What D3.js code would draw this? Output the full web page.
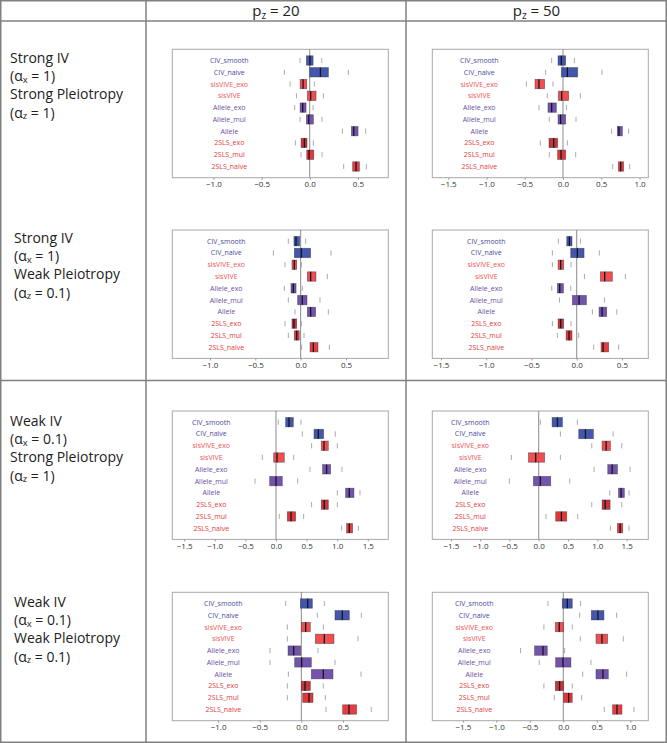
<!DOCTYPE html>
<html><head><meta charset="utf-8">
<script src="https://cdn.jsdelivr.net/npm/d3@7"></script>
<style>body{margin:0;background:#fff;} svg{display:block;font-family:"Open Sans",sans-serif;}</style>
</head><body><svg id="c" width="667" height="743"></svg>
<script>
// ---------- data ----------
const methods = ["CIV_smooth","CIV_naive","sisVIVE_exo","sisVIVE","Allele_exo","Allele_mul","Allele","2SLS_exo","2SLS_mul","2SLS_naive"];
const boxColors  = ["#3b4ea6","#3b4ea6","#ee4646","#ee4646","#6b4aa6","#6b4aa6","#6b4aa6","#c62a2e","#df2c2c","#e53434"];
const textColors = ["#4a4d9e","#4a4d9e","#ef5252","#ef5252","#6a4fa3","#6a4fa3","#6a4fa3","#e23a3a","#e23a3a","#e23a3a"];
const colHeaders = ["20","50"];
const rowIV     = ["Strong IV","Strong IV","Weak IV","Weak IV"];
const rowAx     = ["1","1","0.1","0.1"];
const rowPleio  = ["Strong Pleiotropy","Weak Pleiotropy","Strong Pleiotropy","Weak Pleiotropy"];
const rowAz     = ["1","0.1","1","0.1"];

// each entry: [whisker low, Q1, median, Q3, whisker high]
const p1 = [[-0.100,-0.035,0.003,0.035,0.125],[-0.263,0.000,0.111,0.194,0.401],[-0.204,-0.100,-0.069,-0.031,0.048],[-0.138,-0.024,0.010,0.066,0.142],[-0.156,-0.100,-0.073,-0.038,0.035],[-0.100,-0.035,-0.010,0.038,0.128],[0.339,0.433,0.457,0.502,0.581],[-0.149,-0.090,-0.055,-0.028,0.038],[-0.090,-0.031,-0.007,0.042,0.128],[0.353,0.446,0.481,0.516,0.588]];
const p2 = [[-0.148,-0.065,-0.022,0.035,0.148],[-0.227,-0.022,0.057,0.192,0.510],[-0.479,-0.366,-0.314,-0.240,-0.131],[-0.205,-0.061,-0.017,0.074,0.227],[-0.314,-0.196,-0.148,-0.087,0.044],[-0.179,-0.065,-0.031,0.035,0.170],[0.636,0.710,0.732,0.776,0.858],[-0.296,-0.183,-0.122,-0.070,0.057],[-0.179,-0.070,-0.026,0.035,0.166],[0.649,0.723,0.754,0.793,0.871]];
const p3 = [[-0.136,-0.074,-0.051,-0.011,0.055],[-0.301,-0.070,0.007,0.110,0.335],[-0.173,-0.096,-0.070,-0.044,0.007],[0.000,0.074,0.110,0.169,0.294],[-0.180,-0.107,-0.081,-0.051,0.018],[-0.136,-0.033,0.018,0.070,0.213],[-0.063,0.074,0.110,0.165,0.305],[-0.173,-0.096,-0.074,-0.044,0.007],[-0.136,-0.070,-0.044,-0.015,0.037],[0.011,0.103,0.140,0.191,0.316]];
const p4 = [[-0.203,-0.110,-0.081,-0.052,0.041],[-0.269,-0.066,0.007,0.081,0.250],[-0.269,-0.206,-0.177,-0.144,-0.063],[0.085,0.261,0.309,0.394,0.538],[-0.276,-0.214,-0.188,-0.147,-0.066],[-0.191,-0.048,0.026,0.107,0.306],[0.173,0.247,0.280,0.331,0.442],[-0.269,-0.206,-0.177,-0.144,-0.063],[-0.214,-0.118,-0.085,-0.052,0.022],[0.188,0.269,0.291,0.353,0.464]];
const p5 = [[0.038,0.158,0.212,0.283,0.408],[0.430,0.621,0.691,0.778,0.969],[0.582,0.740,0.784,0.855,1.002],[-0.223,-0.038,0.016,0.136,0.289],[0.555,0.762,0.827,0.893,1.078],[-0.343,-0.103,0.000,0.103,0.354],[1.002,1.138,1.198,1.274,1.372],[0.582,0.740,0.789,0.855,1.002],[0.054,0.185,0.245,0.321,0.452],[1.072,1.154,1.198,1.252,1.345]];
const p6 = [[0.028,0.228,0.319,0.404,0.660],[0.370,0.683,0.797,0.933,1.269],[0.905,1.081,1.150,1.224,1.417],[-0.467,-0.176,-0.051,0.102,0.370],[0.945,1.178,1.252,1.343,1.559],[-0.501,-0.091,0.028,0.205,0.529],[1.212,1.360,1.405,1.461,1.541],[0.905,1.081,1.133,1.218,1.417],[0.125,0.290,0.387,0.478,0.666],[1.224,1.343,1.389,1.434,1.541]];
const p7 = [[-0.188,-0.012,0.076,0.132,0.276],[0.192,0.404,0.492,0.576,0.720],[-0.168,0.000,0.052,0.108,0.264],[-0.168,0.168,0.276,0.392,0.680],[-0.376,-0.160,-0.092,-0.008,0.200],[-0.376,-0.080,0.004,0.120,0.404],[-0.156,0.120,0.264,0.380,0.716],[-0.168,0.000,0.044,0.108,0.264],[-0.168,0.016,0.092,0.140,0.288],[0.296,0.496,0.572,0.664,0.840]];
const p8 = [[-0.229,-0.015,0.060,0.134,0.259],[0.244,0.418,0.517,0.607,0.796],[-0.289,-0.119,-0.060,0.005,0.134],[0.254,0.488,0.577,0.662,0.896],[-0.637,-0.428,-0.303,-0.239,0.020],[-0.358,-0.114,-0.005,0.114,0.413],[0.289,0.488,0.592,0.672,0.945],[-0.289,-0.119,-0.055,0.005,0.134],[-0.134,0.005,0.080,0.134,0.274],[0.612,0.736,0.801,0.876,1.055]];
const panelData = [p1,p2,p3,p4,p5,p6,p7,p8];

const domains = [[-1.427,0.816],[-1.708,1.115],[-1.415,0.966],[-1.596,0.791],[-1.694,1.835],[-1.816,1.870],[-1.549,1.044],[-1.955,1.269]];
const tickVals = [[-1,-0.5,0,0.5],[-1.5,-1,-0.5,0,0.5,1],[-1,-0.5,0,0.5],[-1.5,-1,-0.5,0,0.5],[-1.5,-1,-0.5,0,0.5,1,1.5],[-1.5,-1,-0.5,0,0.5,1,1.5],[-1,-0.5,0,0.5],[-1.5,-1,-0.5,0,0.5,1]];

// ---------- layout ----------
const W = 667, H = 743;
const colX = [146, 406];
const headerY = 21, midY = 380.5;
const panelLeft = [172.3, 432.3];
const panelTop = [49.3, 230, 411, 592.3];
const PW = 216, PH = 128.4;
const labelOffsets = [57, 47, 54, 54, 39, 38, 51, 42];
const rowLabelX = [10, 14, 10, 14];
const rowLabelY = [57, 237, 420, 601];
const lineGap = 18.3;

const svg = d3.select("#c");
svg.append("rect").attr("width", W).attr("height", H).attr("fill", "#fff");

// table grid
const grid = svg.append("g").attr("stroke", "#808080").attr("stroke-width", 1.5).attr("fill", "none");
grid.append("rect").attr("x", 0.75).attr("y", 0.75).attr("width", W - 1.5).attr("height", H - 1.5);
colX.forEach(cx => grid.append("line").attr("x1", cx).attr("x2", cx).attr("y1", 0).attr("y2", H));
[headerY, midY].forEach(yy => grid.append("line").attr("x1", 0).attr("x2", W).attr("y1", yy).attr("y2", yy));

// column headers
colHeaders.forEach((h, i) => {
  const cx = (colX[i] + (i === 0 ? colX[1] : W)) / 2;
  const t = svg.append("text").attr("x", cx).attr("y", 15.5).attr("text-anchor", "middle")
    .attr("font-size", 15).attr("fill", "#222");
  t.append("tspan").text("p");
  t.append("tspan").attr("font-size", 10).attr("dy", 3).text("z");
  t.append("tspan").attr("dy", -3).text(" = " + h);
});

// row labels
function subLine(g, x, y, pre, sub, post) {
  const t = g.append("text").attr("x", x).attr("y", y).attr("font-size", 14).attr("fill", "#222")
    .attr("dominant-baseline", "central");
  t.append("tspan").text(pre);
  t.append("tspan").attr("font-size", 9.5).attr("dy", 3.5).text(sub);
  t.append("tspan").attr("dy", -3.5).text(post);
}
for (let r = 0; r < 4; r++) {
  const g = svg.append("g");
  const x0 = rowLabelX[r], y0 = rowLabelY[r];
  g.append("text").attr("x", x0).attr("y", y0).attr("font-size", 14).attr("fill", "#222")
    .attr("dominant-baseline", "central").text(rowIV[r]);
  subLine(g, x0, y0 + lineGap, "(α", "x", "  = " + rowAx[r] + ")");
  g.append("text").attr("x", x0).attr("y", y0 + 2 * lineGap).attr("font-size", 14).attr("fill", "#222")
    .attr("dominant-baseline", "central").text(rowPleio[r]);
  subLine(g, x0, y0 + 3 * lineGap, "(α", "z", "  = " + rowAz[r] + ")");
}

// panels
panelData.forEach((data, k) => {
  const row = Math.floor(k / 2), col = k % 2;
  const left = panelLeft[col], top = panelTop[row];
  const x = d3.scaleLinear().domain(domains[k]).range([left, left + PW]);
  const y = d3.scalePoint().domain(methods).range([top, top + PH]).padding(0.95);
  const bh = 9.4;
  const g = svg.append("g");

  g.append("rect").attr("x", left).attr("y", top).attr("width", PW).attr("height", PH)
    .attr("fill", "none").attr("stroke", "#a8a8a8").attr("stroke-width", 1);

  g.append("line").attr("x1", x(0)).attr("x2", x(0)).attr("y1", top).attr("y2", top + PH)
    .attr("stroke", "#8a8a8a").attr("stroke-width", 1);

  const rows = data.map((d, i) => ({ m: methods[i], v: d, i }));

  // whisker end ticks
  const wt = g.append("g").attr("stroke", "#a0a0a0").attr("stroke-width", 0.9);
  rows.forEach(r => {
    [r.v[0], r.v[4]].forEach(v => {
      wt.append("line").attr("x1", x(v)).attr("x2", x(v))
        .attr("y1", y(r.m) - 2.6).attr("y2", y(r.m) + 2.6);
    });
  });

  // boxes
  g.selectAll("rect.box").data(rows).join("rect").attr("class", "box")
    .attr("x", r => x(r.v[1])).attr("width", r => x(r.v[3]) - x(r.v[1]))
    .attr("y", r => y(r.m) - bh / 2).attr("height", bh)
    .attr("fill", r => boxColors[r.i]).attr("fill-opacity", 0.95)
    .attr("stroke", "#2a2a3a").attr("stroke-opacity", 0.55).attr("stroke-width", 0.7);

  // medians
  g.selectAll("line.med").data(rows).join("line").attr("class", "med")
    .attr("x1", r => x(r.v[2])).attr("x2", r => x(r.v[2]))
    .attr("y1", r => y(r.m) - bh / 2).attr("y2", r => y(r.m) + bh / 2)
    .attr("stroke", "#151520").attr("stroke-width", 1.3);

  // method labels
  g.selectAll("text.lab").data(rows).join("text").attr("class", "lab")
    .attr("x", left + labelOffsets[k]).attr("y", r => y(r.m))
    .attr("text-anchor", "middle").attr("dominant-baseline", "central")
    .attr("font-size", 7).attr("fill", r => textColors[r.i]).text(r => r.m);

  // x axis
  const ax = g.append("g").attr("transform", `translate(0,${top + PH})`)
    .call(d3.axisBottom(x).tickValues(tickVals[k]).tickSize(2).tickPadding(1.5).tickFormat(d3.format(".1f")));
  ax.select(".domain").remove();
  ax.selectAll(".tick line").attr("stroke", "#999");
  ax.selectAll(".tick text").attr("font-size", 8).attr("fill", "#333")
    .attr("font-family", '"Open Sans", sans-serif');
});
</script></body></html>
